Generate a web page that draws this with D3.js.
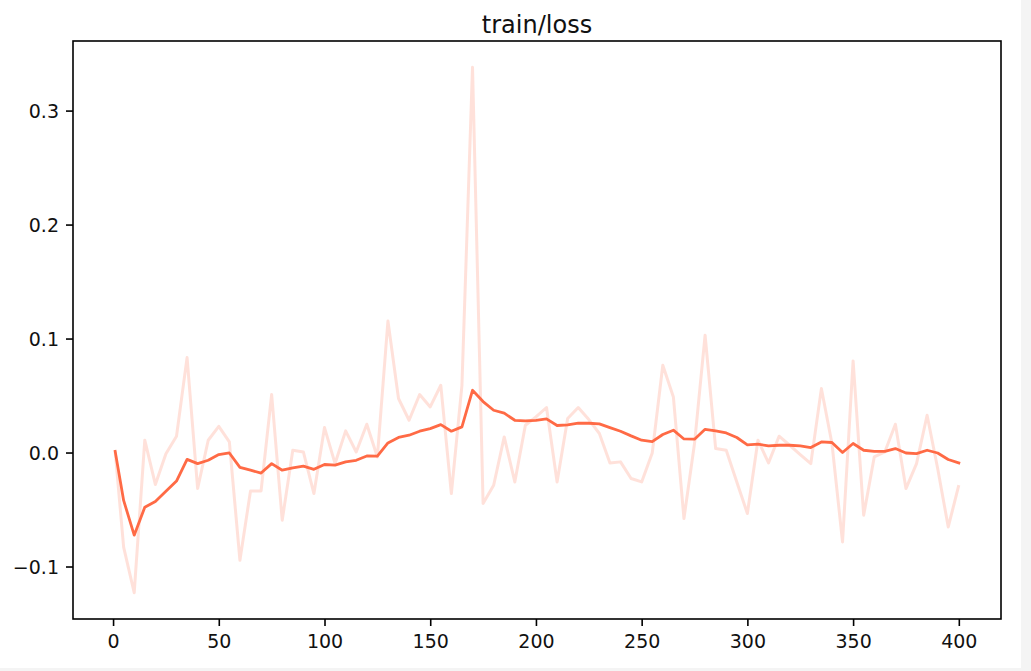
<!DOCTYPE html>
<html lang="en">
<head>
  <meta charset="utf-8" />
  <title>train/loss</title>
  <script src="https://cdn.jsdelivr.net/npm/d3@7"></script>
  <style>
    body {
      margin: 0;
      background: #fff;
    }
    svg {
      display: block;
      font-family: "DejaVu Sans", sans-serif;
    }
  </style>
</head>
<body>
  <div id="chart"></div>

  <script type="text/javascript">

    // logged steps
    const steps = [1, 5, 10, 15, 20, 25, 30, 35, 40, 45, 50, 55, 60, 65, 70, 75, 80, 85, 90, 95,
                   100, 105, 110, 115, 120, 125, 130, 135, 140, 145, 150, 155, 160, 165, 170, 175, 180, 185, 190, 195,
                   200, 205, 210, 215, 220, 225, 230, 235, 240, 245, 250, 255, 260, 265, 270, 275, 280, 285, 290, 295,
                   300, 305, 310, 315, 320, 325, 330, 335, 340, 345, 350, 355, 360, 365, 370, 375, 380, 385, 390, 395, 400];

    // raw loss values (faint line)
    const rawLoss = [0.001, -0.083, -0.123, 0.0108, -0.028, -0.001, 0.0143, 0.0833, -0.0316, 0.0108,
                     0.023, 0.0093, -0.0945, -0.0337, -0.0337, 0.0509, -0.0594, 0.002, 0.0005, -0.036,
                     0.0219, -0.0097, 0.019, 0.0005, 0.0248, -0.0039, 0.1154, 0.0474, 0.0283, 0.0509,
                     0.040, 0.059, -0.036, 0.059, 0.338, -0.0447, -0.0287, 0.0137, -0.0258, 0.0239,
                     0.0312, 0.0395, -0.0258, 0.0298, 0.0395, 0.0289, 0.0167, -0.0091, -0.0082, -0.0228,
                     -0.0258, -0.0004, 0.0766, 0.0488, -0.0579, 0.0079, 0.1029, 0.0035, 0.002, -0.0258,
                     -0.0535, 0.0108, -0.0091, 0.0143, 0.0064, -0.0018, -0.0097, 0.0561, 0.0079, -0.0784,
                     0.0804, -0.055, -0.0039, 0.0005, 0.0248, -0.0316, -0.0097, 0.0327, -0.014, -0.0653, -0.0287];

    // smoothed loss values (solid line)
    const smoothLoss = [0.001, -0.042, -0.0725, -0.048, -0.043, -0.034, -0.025, -0.006, -0.0097, -0.0068,
                        -0.0018, -0.0004, -0.013, -0.0155, -0.018, -0.0097, -0.0155, -0.0135, -0.012, -0.0147,
                        -0.0105, -0.011, -0.0082, -0.0068, -0.003, -0.0032, 0.0084, 0.0132, 0.0152, 0.0187,
                        0.021, 0.0245, 0.0187, 0.0225, 0.0546, 0.0447, 0.0371, 0.0345, 0.0283, 0.0277,
                        0.0283, 0.0295, 0.0237, 0.0242, 0.0257, 0.0257, 0.0251, 0.0219, 0.0187, 0.0146,
                        0.0108, 0.0096, 0.0158, 0.0196, 0.0119, 0.0117, 0.0204, 0.019, 0.0172, 0.0132,
                        0.0067, 0.0073, 0.0058, 0.0064, 0.0064, 0.0058, 0.0044, 0.0093, 0.0088, 0.0,
                        0.0079, 0.002, 0.0011, 0.0011, 0.0035, -0.0004, -0.0009, 0.002, -0.0004, -0.0061, -0.0091];

    const xTicks = [0, 50, 100, 150, 200, 250, 300, 350, 400];
    const yTicks = [-0.1, 0.0, 0.1, 0.2, 0.3];

    const w = 1031;
    const h = 671;
    const margin = {top: 41, right: 30, bottom: 52, left: 73};
    const lineColor = "#ff6a45";

    const svg = d3.select("#chart")
                  .append("svg")
                  .attr("width", w)
                  .attr("height", h);

    // light grey strip at the screenshot edges
    svg.append("rect").attr("x", 0).attr("y", 0).attr("width", w).attr("height", h).attr("fill", "#f4f4f4");
    svg.append("rect").attr("x", 0).attr("y", 0).attr("width", w - 10).attr("height", h - 3).attr("fill", "#fff");

    // matplotlib style 5% margins around the data
    const xExt = d3.extent(steps);
    const yExt = d3.extent(rawLoss.concat(smoothLoss));
    const xPad = (xExt[1] - xExt[0]) * 0.05;
    const yPad = (yExt[1] - yExt[0]) * 0.05;

    const x = d3.scaleLinear()
                .domain([xExt[0] - xPad, xExt[1] + xPad])
                .range([margin.left, w - margin.right]);

    const y = d3.scaleLinear()
                .domain([yExt[0] - yPad, yExt[1] + yPad])
                .range([h - margin.bottom, margin.top]);

    const line = d3.line()
                   .x((d, i) => x(steps[i]))
                   .y(d => y(d));

    svg.append("path")
       .datum(rawLoss)
       .attr("fill", "none")
       .attr("stroke", lineColor)
       .attr("stroke-opacity", 0.2)
       .attr("stroke-width", 3)
       .attr("stroke-linejoin", "round")
       .attr("d", line);

    svg.append("path")
       .datum(smoothLoss)
       .attr("fill", "none")
       .attr("stroke", lineColor)
       .attr("stroke-width", 2.8)
       .attr("stroke-linejoin", "round")
       .attr("stroke-linecap", "square")
       .attr("d", line);

    // axes
    const xAxis = d3.axisBottom(x)
                    .tickValues(xTicks)
                    .tickFormat(d3.format("d"))
                    .tickSize(7)
                    .tickPadding(7)
                    .tickSizeOuter(0);

    const yAxis = d3.axisLeft(y)
                    .tickValues(yTicks)
                    .tickFormat(d3.format(".1f"))
                    .tickSize(7)
                    .tickPadding(7)
                    .tickSizeOuter(0);

    const gx = svg.append("g")
                  .attr("transform", "translate(0," + (h - margin.bottom) + ")")
                  .call(xAxis);

    const gy = svg.append("g")
                  .attr("transform", "translate(" + margin.left + ",0)")
                  .call(yAxis);

    [gx, gy].forEach(g => {
      g.select(".domain").remove();
      g.selectAll(".tick line").attr("stroke", "#000").attr("stroke-width", 1.6);
      g.selectAll(".tick text")
       .attr("fill", "#111")
       .attr("font-size", "19px")
       .attr("font-family", "DejaVu Sans, sans-serif");
    });
    gx.selectAll(".tick text").attr("dy", "0.71em").attr("y", 16);
    gy.selectAll(".tick text").attr("dy", "0.36em");

    // axes frame
    svg.append("rect")
       .attr("x", margin.left)
       .attr("y", margin.top)
       .attr("width", w - margin.left - margin.right)
       .attr("height", h - margin.top - margin.bottom)
       .attr("fill", "none")
       .attr("stroke", "#000")
       .attr("stroke-width", 1.6);

    svg.append("text")
       .attr("x", (margin.left + w - margin.right) / 2)
       .attr("y", 33)
       .attr("text-anchor", "middle")
       .attr("font-size", "24px")
       .attr("fill", "#111")
       .text("train/loss");

  </script>
</body>
</html>
